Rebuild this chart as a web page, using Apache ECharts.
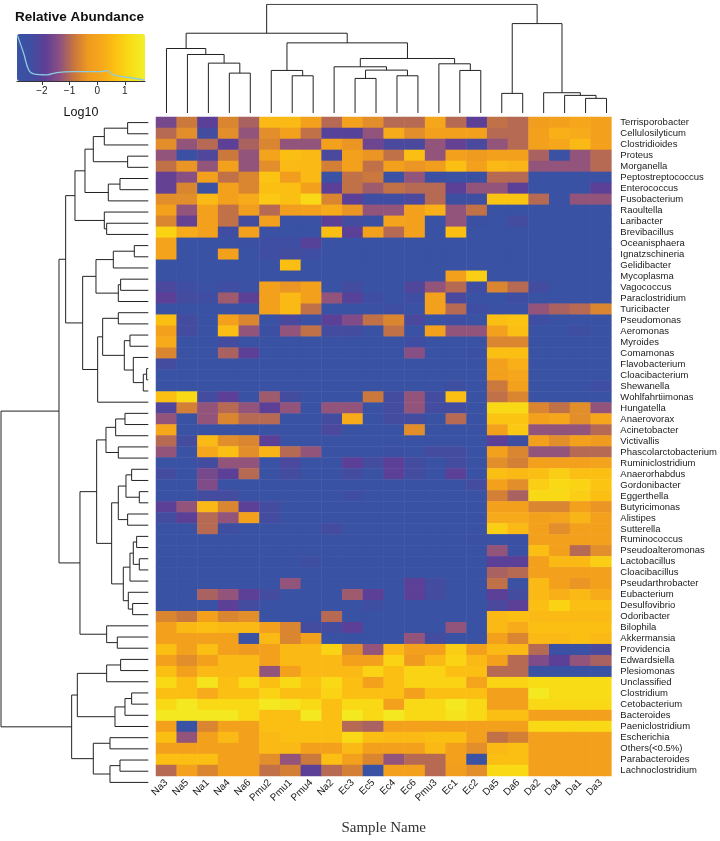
<!DOCTYPE html>
<html><head><meta charset="utf-8">
<script src="https://cdn.jsdelivr.net/npm/echarts@6/dist/echarts.min.js"></script>
<style>html,body{margin:0;padding:0;background:#fff}#c{width:720px;height:841px}</style>
</head><body><div id="c"></div>
<script>
const FONT = "'Liberation Sans', Arial, Helvetica, sans-serif";
const samples = ['Na3','Na5','Na1','Na4','Na6','Pmu2','Pmu1','Pmu4','Na2','Ec3','Ec5','Ec4','Ec6','Pmu3','Ec1','Ec2','Da5','Da6','Da2','Da4','Da1','Da3'];
const taxa = ['Terrisporobacter','Cellulosilyticum','Clostridioides','Proteus','Morganella','Peptostreptococcus','Enterococcus','Fusobacterium','Raoultella','Laribacter','Brevibacillus','Oceanisphaera','Ignatzschineria','Gelidibacter','Mycoplasma','Vagococcus','Paraclostridium','Turicibacter','Pseudomonas','Aeromonas','Myroides','Comamonas','Flavobacterium','Cloacibacterium','Shewanella','Wohlfahrtiimonas','Hungatella','Anaerovorax','Acinetobacter','Victivallis','Phascolarctobacterium','Ruminiclostridium','Anaerorhabdus','Gordonibacter','Eggerthella','Butyricimonas','Alistipes','Sutterella','Ruminococcus','Pseudoalteromonas','Lactobacillus','Cloacibacillus','Pseudarthrobacter','Eubacterium','Desulfovibrio','Odoribacter','Bilophila','Akkermansia','Providencia','Edwardsiella','Plesiomonas','Unclassified','Clostridium','Cetobacterium','Bacteroides','Paeniclostridium','Escherichia','Others(<0.5%)','Parabacteroides','Lachnoclostridium'];
// log10 relative abundance, one row per taxon, columns in sample order
const abundance = [
[-1.6,-0.8,-1.9,-0.6,-1.1,0.5,0.5,-0.1,-1.0,-0.1,-0.5,-1.0,-1.0,0.1,-1.0,-1.9,-0.9,-1.0,-0.2,-0.1,0.1,-0.1],
[-1.0,-0.5,-2.3,-0.5,-1.3,-0.5,-0.1,-0.9,-2.0,-2.0,-1.3,0.2,-0.5,-0.1,-0.1,-0.1,-1.0,-1.0,-0.1,0.3,0.2,-0.1],
[-0.5,-1.3,-1.0,-1.9,-1.1,-0.6,-1.3,-1.3,-0.1,-0.4,-1.7,-2.2,-2.2,-1.3,-1.8,-2.2,-1.3,-1.0,-0.1,0.1,0.5,-0.1],
[-1.3,-2.6,-2.1,-0.8,-1.3,0.0,0.6,0.5,-2.2,-0.1,-0.4,-0.9,0.6,-1.3,-0.1,-0.3,-0.1,-0.1,-1.1,-2.7,-1.3,-1.0],
[-0.9,-0.4,-1.3,-0.1,-1.3,-0.5,0.5,0.5,-0.7,-0.1,-0.9,-0.1,-0.4,-0.2,0.6,-0.1,0.5,0.4,-1.3,-1.3,-1.3,-1.0],
[-1.8,-1.4,-0.1,-0.9,-0.6,0.7,-0.2,0.5,-2.7,-0.9,-0.8,-2.7,-1.3,-2.6,-2.7,-2.6,-1.0,-1.0,-2.8,-2.8,-2.8,-2.7],
[-1.8,-0.6,-2.7,-0.1,-0.6,0.6,0.6,-0.1,-1.9,-0.9,-1.2,-0.9,-1.0,-1.0,-1.9,-1.3,-1.3,-1.9,-2.8,-2.8,-2.8,-1.9],
[-0.5,-0.5,0.5,-0.1,0.2,0.8,0.6,1.1,-0.6,-1.9,-2.4,-2.4,-2.2,-1.0,-2.5,-2.5,0.7,0.7,-1.0,-2.7,-1.3,-1.3],
[-0.1,-1.3,-0.1,-0.9,-0.2,-1.0,-0.2,-0.1,0.2,-0.4,-1.3,-1.3,-0.1,0.3,-1.3,-0.9,-2.8,-2.8,-2.8,-2.8,-2.8,-2.8],
[-0.6,-1.8,-0.1,-0.9,-2.3,-0.1,-2.7,-2.7,-1.9,-2.3,-2.6,0.0,-0.1,-2.8,-1.3,-2.6,-2.8,-2.3,-2.8,-2.8,-2.8,-2.8],
[1.0,0.2,-0.1,-2.4,-0.1,-2.7,-2.8,-2.8,0.6,-1.9,-0.1,-1.0,-0.1,-2.8,0.6,-2.8,-2.8,-2.8,-2.8,-2.8,-2.8,-2.8],
[0.0,-2.8,-2.8,-2.7,-2.6,-2.4,-2.4,-2.0,-2.8,-2.8,-2.8,-2.8,-2.8,-2.8,-2.8,-2.8,-2.8,-2.8,-2.8,-2.8,-2.8,-2.8],
[0.0,-2.8,-2.8,-0.1,-2.8,-2.4,-2.3,-2.4,-2.8,-2.8,-2.8,-2.8,-2.8,-2.8,-2.8,-2.8,-2.8,-2.8,-2.8,-2.8,-2.8,-2.8],
[-2.8,-2.8,-2.8,-2.8,-2.8,-2.8,0.6,-2.8,-2.8,-2.8,-2.8,-2.8,-2.8,-2.8,-2.8,-2.8,-2.8,-2.8,-2.8,-2.8,-2.8,-2.8],
[-2.8,-2.8,-2.8,-2.8,-2.8,-2.8,-2.8,-2.8,-2.8,-2.8,-2.8,-2.8,-2.8,-2.8,-0.1,0.9,-2.8,-2.8,-2.8,-2.8,-2.8,-2.8],
[-2.2,-2.4,-2.7,-2.4,-2.7,-0.1,-0.4,-0.1,-2.8,-2.3,-2.8,-2.8,-2.1,-1.3,-1.0,-2.4,-0.6,-1.0,-2.3,-2.8,-2.8,-2.8],
[-1.9,-2.3,-2.4,-1.2,-1.9,-0.1,0.5,-0.1,-1.3,-2.0,-2.4,-2.8,-2.4,-0.1,-2.2,-2.8,-2.8,-2.4,-2.8,-2.8,-2.8,-2.8],
[-2.8,-2.8,-2.8,-2.7,-2.8,-0.1,0.5,-0.9,-2.8,-2.8,-2.7,-2.4,-2.7,-0.1,-1.0,-2.4,-2.7,-2.7,-1.3,-1.1,-1.0,-0.6],
[0.6,-2.3,-2.8,-0.1,-0.6,-2.7,-2.2,-2.7,-1.9,-1.5,-0.9,-0.6,-2.2,-2.8,-2.4,-2.8,0.6,0.7,-2.4,-2.8,-2.8,-2.8],
[-0.1,-2.3,-2.8,0.6,-1.3,-2.6,-1.3,-0.9,-2.3,-2.3,-2.8,-0.9,-2.8,-0.1,-1.3,-1.3,-0.1,0.6,-2.8,-2.8,-2.5,-2.8],
[0.2,-2.8,-2.8,-2.3,-2.8,-2.8,-2.8,-2.8,-2.8,-2.8,-2.8,-2.8,-2.4,-2.8,-2.8,-2.8,-0.6,-0.6,-2.8,-2.8,-2.8,-2.8],
[-0.6,-2.8,-2.8,-1.1,-1.9,-2.8,-2.8,-2.8,-2.8,-2.8,-2.8,-2.8,-1.4,-2.8,-2.8,-2.6,0.6,0.6,-2.8,-2.8,-2.8,-2.8],
[-2.3,-2.8,-2.8,-2.8,-2.8,-2.8,-2.8,-2.8,-2.8,-2.8,-2.8,-2.8,-2.8,-2.8,-2.8,-2.8,-0.1,0.3,-2.8,-2.8,-2.8,-2.8],
[-2.8,-2.8,-2.8,-2.8,-2.8,-2.8,-2.8,-2.8,-2.8,-2.8,-2.8,-2.8,-2.8,-2.8,-2.8,-2.8,-0.1,0.1,-2.8,-2.8,-2.8,-2.8],
[-2.8,-2.8,-2.8,-2.8,-2.8,-2.8,-2.8,-2.8,-2.8,-2.8,-2.8,-2.8,-2.8,-2.8,-2.5,-2.8,-0.8,-0.1,-2.8,-2.8,-2.8,-2.4],
[0.6,1.1,-2.3,-1.9,-2.8,-1.2,-2.3,-2.8,-2.8,-2.8,-0.8,-2.3,-1.3,-2.3,0.6,-2.8,-0.9,-0.6,-2.8,-2.8,-2.8,-2.8],
[-2.1,-0.7,-1.3,-1.0,-1.3,-1.9,-1.3,-2.8,-1.3,-1.3,-2.8,-2.3,-1.3,-2.3,-2.3,-2.8,1.1,1.1,-0.6,-0.9,-0.5,-1.3],
[-1.3,-2.8,-1.3,-0.6,-1.0,-1.0,-2.8,-2.8,-2.3,0.2,-2.8,-2.3,-2.3,-2.8,-1.0,-2.8,0.7,0.7,-0.1,0.1,-0.5,0.1],
[0.1,-2.8,-2.8,-2.8,-2.8,-2.8,-2.8,-2.8,-2.2,-2.8,-2.8,-2.8,-0.5,-2.8,-2.8,-2.8,-0.1,0.8,-1.3,-1.3,-1.3,-1.0],
[-1.0,-2.3,0.5,-0.5,-0.6,-1.9,-2.8,-2.8,-2.8,-2.8,-2.8,-2.8,-2.8,-2.8,-2.8,-2.8,-1.9,-2.5,-0.1,-0.5,-0.1,-0.3],
[-1.3,-2.8,0.1,0.6,-0.5,0.4,-1.0,-1.3,-2.8,-2.8,-2.8,-2.6,-2.8,-2.3,-2.3,-2.8,-0.1,-0.6,-1.3,-1.3,-1.0,-1.0],
[-2.8,-2.8,-2.3,-1.3,-1.3,-2.8,-2.2,-2.8,-2.8,-1.9,-2.3,-1.9,-2.3,-2.8,-2.3,-2.8,-0.5,-0.7,-0.1,-0.1,-0.1,0.0],
[-2.3,-2.8,-1.6,-1.9,-1.0,-2.8,-2.3,-2.8,-2.8,-2.3,-2.8,-1.9,-2.3,-2.8,-1.9,-2.8,0.6,0.5,0.6,0.9,0.6,0.6],
[-2.8,-2.8,-1.5,-2.8,-2.8,-2.8,-2.8,-2.8,-2.8,-2.8,-2.8,-2.8,-2.8,-2.8,-2.8,-2.3,-0.1,-0.5,0.9,1.1,1.0,0.7],
[-2.8,-2.8,-2.3,-2.3,-2.8,-2.8,-2.8,-2.8,-2.8,-2.4,-2.8,-2.8,-2.8,-2.8,-2.8,-2.8,-0.7,-1.1,1.1,1.1,0.9,0.6],
[-1.9,-1.3,0.5,-0.6,-1.9,-2.3,-2.8,-2.8,-2.8,-2.8,-2.8,-2.8,-2.8,-2.8,-2.8,-2.8,-0.1,-0.1,-0.6,-0.6,-0.1,-0.4],
[-2.3,-1.9,-1.0,-1.3,-0.1,-2.3,-2.8,-2.8,-2.8,-2.8,-2.8,-2.8,-2.8,-2.8,-2.8,-2.8,0.2,0.2,-0.1,0.0,0.4,-0.1],
[-2.8,-2.8,-1.0,-2.5,-2.8,-2.8,-2.8,-2.8,-2.3,-2.8,-2.8,-2.8,-2.8,-2.8,-2.8,-2.8,0.9,0.5,-0.1,-0.5,-0.1,-0.1],
[-2.8,-2.8,-2.8,-2.8,-2.8,-2.8,-2.8,-2.8,-2.8,-2.8,-2.8,-2.8,-2.8,-2.8,-2.8,-2.6,-2.8,-2.6,-0.1,-0.1,-0.1,-0.1],
[-2.8,-2.8,-2.8,-2.8,-2.8,-2.8,-2.8,-2.8,-2.8,-2.8,-2.8,-2.8,-2.8,-2.8,-2.8,-2.8,-1.3,-2.7,0.6,-0.1,-1.0,-0.5],
[-2.8,-2.8,-2.8,-2.8,-2.8,-2.8,-2.8,-2.5,-2.8,-2.8,-2.8,-2.8,-2.8,-2.8,-2.8,-2.8,-1.9,-1.9,-0.1,0.5,0.5,0.9],
[-2.8,-2.8,-2.8,-2.8,-2.8,-2.8,-2.8,-2.8,-2.8,-2.8,-2.8,-2.8,-2.8,-2.8,-2.8,-2.8,-1.1,-1.0,-0.1,-0.1,-0.1,-0.1],
[-2.8,-2.8,-2.8,-2.8,-2.8,-2.8,-1.3,-2.8,-2.8,-2.8,-2.8,-2.8,-1.9,-2.3,-2.8,-2.8,-0.9,-2.7,0.5,-0.1,-0.4,-0.1],
[-2.8,-2.8,-1.1,-1.3,-1.9,-2.3,-2.8,-2.8,-2.8,-1.2,-1.9,-2.8,-1.9,-2.3,-2.8,-2.8,-1.9,-2.3,0.5,0.3,0.5,0.2],
[-2.8,-2.8,-2.8,-1.9,-2.3,-2.8,-2.8,-2.8,-2.8,-2.8,-2.5,-2.8,-2.8,-2.8,-2.8,-2.8,-2.2,-1.9,0.6,1.0,0.6,0.6],
[-0.6,-0.8,-0.1,-0.6,-0.5,-2.8,-2.8,-2.8,-1.0,-2.8,-2.8,-2.8,-2.8,-2.8,-2.8,-2.8,0.5,0.6,0.5,0.5,0.5,0.5],
[-0.1,0.5,0.6,0.5,0.5,-0.1,-0.6,-2.3,-2.3,-1.9,-2.8,-2.8,-2.8,-2.8,-1.3,-2.8,0.5,0.2,0.6,0.6,0.6,0.6],
[-0.1,-0.1,-0.1,-0.1,-2.8,0.5,-0.6,-0.1,-2.8,-2.8,-2.8,-2.8,-1.3,-2.3,-2.8,-2.8,-0.1,-0.6,0.5,0.5,0.6,0.5],
[0.6,-0.1,0.6,-0.1,-0.3,-0.1,0.5,0.5,1.0,-0.5,-1.3,0.5,-0.1,-0.1,0.9,-0.1,0.5,0.5,-1.0,-2.7,-2.7,-2.2],
[-0.1,-0.5,-0.1,0.5,0.5,-0.1,0.5,0.5,0.5,-0.1,-0.1,1.0,-0.3,0.5,1.0,0.5,-0.1,-1.0,-1.5,-1.9,-1.3,-1.1],
[0.6,-0.1,0.5,0.5,0.5,-1.3,-0.1,0.5,0.5,0.5,1.0,0.6,1.0,1.0,0.6,0.6,-1.0,-1.0,-2.8,-2.8,-2.8,-2.8],
[1.1,0.6,1.4,0.6,1.1,0.6,1.1,0.7,1.1,0.6,-0.1,0.6,1.0,1.0,1.0,0.0,1.0,1.0,1.2,1.2,1.2,1.2],
[0.6,0.6,0.2,0.6,0.6,1.0,0.6,0.6,1.0,0.6,0.6,0.6,-0.1,0.6,0.6,0.6,-0.1,-0.1,1.5,1.2,1.2,1.2],
[1.1,1.5,1.1,1.1,1.1,1.5,1.4,1.1,0.6,1.1,1.1,-0.1,1.1,1.1,1.5,1.1,-0.1,-0.1,1.1,1.1,1.1,1.1],
[1.5,1.5,1.5,1.5,1.1,0.6,0.6,1.5,0.6,1.5,1.1,1.5,1.1,1.1,1.4,1.1,0.6,0.6,-0.1,-0.1,-0.1,-0.1],
[-0.1,-2.8,-0.6,-0.1,-0.1,0.6,0.6,0.6,0.6,-1.0,-1.1,-0.1,-0.1,-0.1,-0.1,-0.1,-0.1,-0.1,1.1,1.1,1.1,1.1],
[0.6,-1.3,-0.1,0.5,-0.1,0.5,0.6,0.6,0.6,1.1,0.6,0.5,0.5,0.6,0.6,-0.1,-0.9,-0.7,-0.1,-0.1,-0.1,-0.1],
[-0.1,-0.1,-0.1,-0.1,-0.1,0.5,0.5,-0.1,-0.1,0.5,-0.1,-0.1,-0.1,0.5,-0.1,-0.5,0.5,0.6,-0.1,-0.1,-0.1,-0.1],
[0.6,0.6,0.6,-0.1,-0.1,-0.5,-1.3,-0.8,0.6,-0.1,-0.6,-1.3,-1.0,-1.0,-0.1,-2.8,0.6,0.6,-0.1,-0.1,-0.1,-0.1],
[-1.0,-0.1,-0.6,-0.1,-0.1,-0.9,-0.7,-1.9,-1.0,-0.7,-2.8,-0.1,-0.1,-1.0,-0.2,-0.5,1.1,1.1,-0.1,-0.1,-0.1,-0.1]
];
// hclust-style merges: negative = leaf (1-based), positive = earlier merge (1-based); third = height
const colMerges = [
[-4,-5,120],[-3,1,150],[-2,2,176],[-1,3,194],[-7,-8,112],[-6,5,128],[-10,-11,104],[-12,-13,112],
[7,8,129],[-9,9,139],[-15,-16,128],[-14,11,148],[10,12,164],[6,13,211],[4,14,240],[-17,-18,59],
[-21,-22,44],[-20,17,53],[-19,18,61],[16,19,269],[15,20,327]
];
const rowMerges = [
[-1,-2,62],[1,-3,132],[-4,-5,62],[2,3,165],[-6,-7,85],[5,-8,120],[4,6,190],[-10,-11,125],[-9,8,132],[7,9,220],
[-12,-13,42],[11,-14,105],[-15,-16,83],[13,-17,90],[12,14,157],[-18,-19,90],[-20,-21,55],[-23,-24,5],[18,-25,15],[-22,19,45],
[17,20,72],[16,21,137],[22,-26,152],[15,23,197],[10,24,248],[-27,-28,70],[26,-29,98],[-30,-31,90],[27,28,127],[-32,-33,50],
[-34,-35,27],[30,31,67],[-36,-37,62],[32,33,90],[-38,-39,35],[-40,-41,27],[35,36,45],[37,-42,55],[-44,-45,47],[-43,39,60],
[38,40,75],[34,41,110],[29,42,155],[-47,-48,93],[-46,44,125],[43,45,205],[25,46,268],[-49,-50,83],[48,-51,125],[-52,-53,50],
[50,-54,70],[51,-55,100],[49,52,213],[-56,-57,115],[-58,-59,85],[55,-60,115],[54,56,165],[53,57,230],[47,58,442]
];
const densityX = [-2.88,-2.66,-2.48,-2.30,-1.82,-1.46,-0.86,0.10,0.35,0.58,1.07,1.73];
const densityY = [0.96,0.59,0.24,0.15,0.13,0.18,0.20,0.20,0.22,0.13,0.08,0.02];
const legendTicks = [-2,-1,0,1];
const scaleMin = -2.9, scaleMax = 1.73;
const palette = ['#3953a4','#3f4ea2','#5e3f96','#8c5083','#c8753f','#ef9a20','#f7a91a','#fcc412','#f8de16','#f1f02a'];

function dendroSegments(merges, swap) {
  const pos = [], ht = [], segs = [];
  const get = k => k < 0 ? [-k - 1, 0] : [pos[k - 1], ht[k - 1]];
  merges.forEach(([a, b, h], i) => {
    const [pa, ha] = get(a), [pb, hb] = get(b);
    pos[i] = (pa + pb) / 2; ht[i] = h;
    let pts = [[pa, ha], [pa, h], [pb, h], [pb, hb]];
    if (swap) pts = pts.map(p => [p[1], p[0]]);
    segs.push({coords: pts});
  });
  return segs;
}

const heatData = [];
abundance.forEach((row, r) => row.forEach((v, c) => heatData.push([c, r, v])));

const chart = echarts.init(document.getElementById('c'), null, {renderer: 'canvas'});
const dendroLine = {color: '#222', width: 1, opacity: 1, curveness: 0};
chart.setOption({
  animation: false,
  textStyle: {fontFamily: FONT},
  title: {text: 'Relative Abundance', left: 15, top: 10, padding: 0,
    textStyle: {fontFamily: FONT, fontSize: 13.5, fontWeight: 'bold', color: '#111'}},
  grid: [
    {left: 156, top: 117, width: 461, height: 671},
    {left: 156, top: 4.3, width: 461, height: 108.7},
    {left: 1, top: 117, width: 147.3, height: 671},
    {left: 17, top: 34, width: 128, height: 47}
  ],
  xAxis: [
    {gridIndex: 0, type: 'category', data: samples, axisLine: {show: false}, axisTick: {show: false},
     splitLine: {show: false},
     axisLabel: {rotate: 45, interval: 0, margin: 5, fontSize: 10, color: '#222', fontFamily: FONT},
     name: 'Sample Name', nameLocation: 'middle', nameGap: 45,
     nameTextStyle: {fontFamily: "'Liberation Serif', 'Times New Roman', serif", fontSize: 15, color: '#333'}},
    {gridIndex: 1, type: 'value', min: -0.5, max: samples.length - 0.5, show: false},
    {gridIndex: 2, type: 'value', min: 0, max: 442, inverse: true, show: false},
    {gridIndex: 3, type: 'value', min: scaleMin, max: scaleMax, splitLine: {show: false},
     axisLine: {show: true, lineStyle: {color: '#333', width: 1}},
     axisTick: {show: true, customValues: legendTicks, length: 4, lineStyle: {color: '#333'}},
     axisLabel: {customValues: legendTicks, formatter: v => String(v).replace('-', '\u2212'),
       fontSize: 10, color: '#222', margin: 5, fontFamily: FONT},
     name: 'Log10', nameLocation: 'middle', nameGap: 25,
     nameTextStyle: {fontSize: 12.5, color: '#111', fontFamily: FONT}}
  ],
  yAxis: [
    {gridIndex: 0, type: 'category', data: taxa, inverse: true, position: 'right',
     axisLine: {show: false}, axisTick: {show: false}, splitLine: {show: false},
     axisLabel: {interval: 0, margin: 9, fontSize: 9.5, color: '#1a1a1a', fontFamily: FONT}},
    {gridIndex: 1, type: 'value', min: 0, max: 327, show: false},
    {gridIndex: 2, type: 'value', min: -0.5, max: taxa.length - 0.5, inverse: true, show: false},
    {gridIndex: 3, type: 'value', min: 0, max: 1, show: false}
  ],
  visualMap: {type: 'continuous', min: scaleMin, max: scaleMax, seriesIndex: 0, orient: 'horizontal',
    left: 17, top: 34, itemWidth: 47, itemHeight: 128, padding: 0, calculable: false,
    hoverLink: false, z: 1, inRange: {color: palette}},
  series: [
    {type: 'heatmap', xAxisIndex: 0, yAxisIndex: 0, data: heatData, silent: true,
     itemStyle: {borderWidth: 0}, emphasis: {disabled: true}, progressive: 0},
    {type: 'lines', coordinateSystem: 'cartesian2d', xAxisIndex: 1, yAxisIndex: 1, polyline: true,
     silent: true, lineStyle: dendroLine, data: dendroSegments(colMerges, false), z: 3},
    {type: 'lines', coordinateSystem: 'cartesian2d', xAxisIndex: 2, yAxisIndex: 2, polyline: true,
     silent: true, lineStyle: dendroLine, data: dendroSegments(rowMerges, true), z: 3},
    {type: 'line', xAxisIndex: 3, yAxisIndex: 3, data: densityX.map((x, i) => [x, densityY[i]]),
     smooth: 0.4, symbol: 'none', silent: true, z: 10,
     lineStyle: {color: '#8ccbe0', width: 1.3}}
  ]
});
</script>
</body></html>
